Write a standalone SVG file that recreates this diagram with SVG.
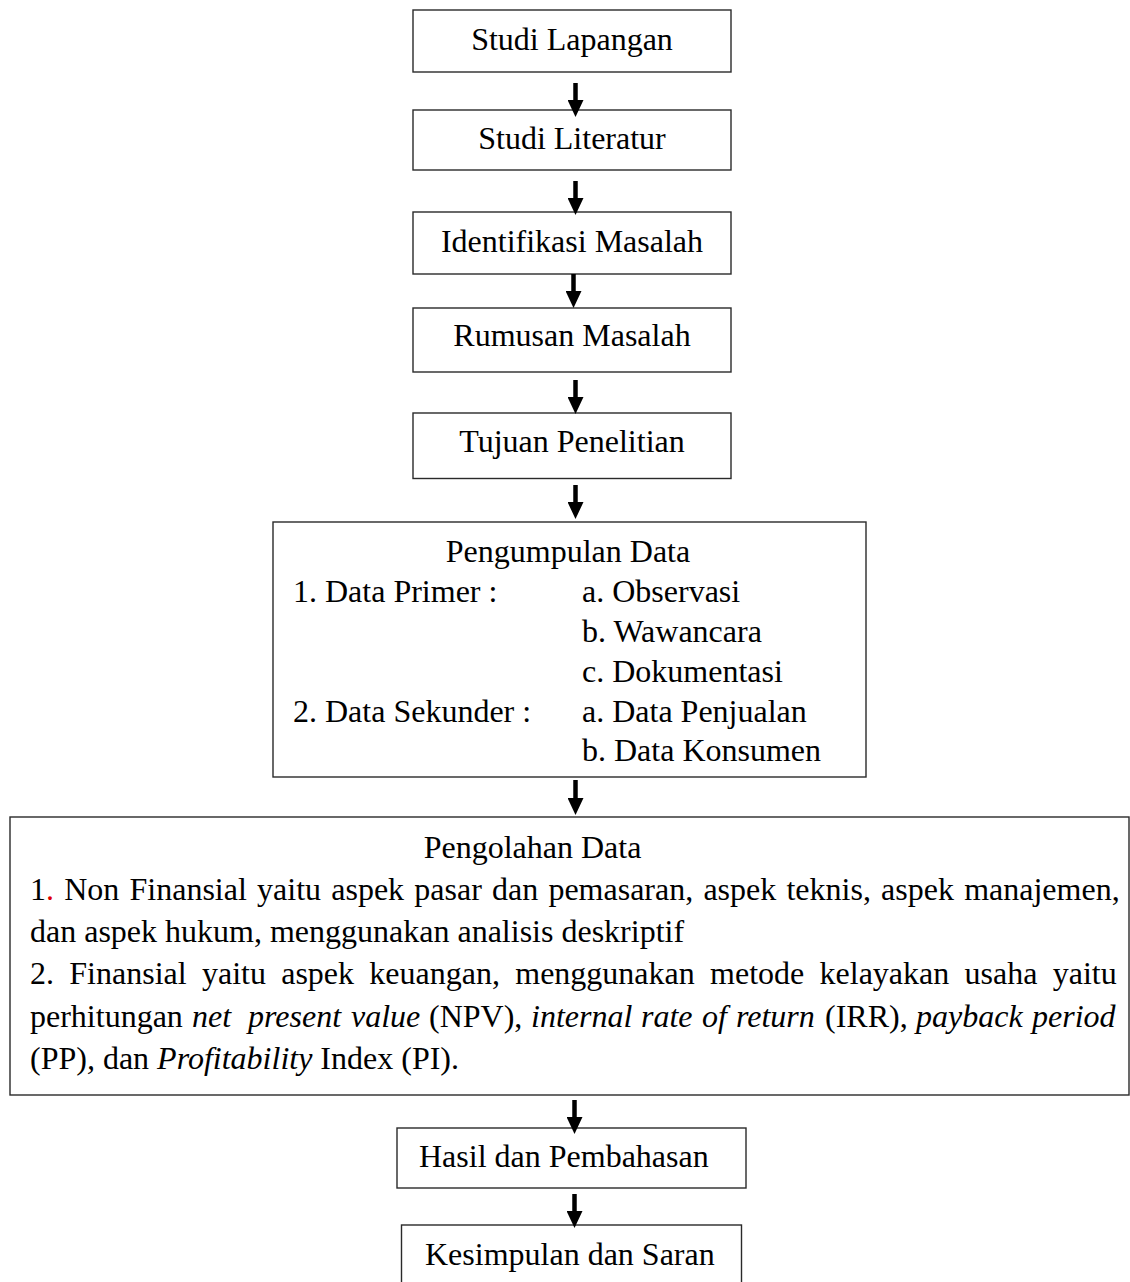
<svg xmlns="http://www.w3.org/2000/svg" width="1130" height="1282" viewBox="0 0 1130 1282">
<style>
.box{fill:#fff;stroke:#2a2a2a;stroke-width:1.4}
.t{font-family:"Liberation Serif","Times New Roman",serif;font-size:32px;fill:#000}
.c{text-anchor:middle}
.i{font-style:italic}
.arr{stroke:#000;stroke-width:4.5;fill:none}
</style>
<defs>
<marker id="ah" viewBox="0 0 17 16" refX="0" refY="8" markerWidth="17" markerHeight="16" markerUnits="userSpaceOnUse" orient="auto">
<path d="M0,0 L17,8 L0,16 z" fill="#000"/>
</marker>
</defs>
<rect width="1130" height="1282" fill="#fff"/>
<g id="n1"><rect class="box" x="413" y="10" width="318" height="62"/><text class="t c" x="572" y="50">Studi Lapangan</text></g>
<g id="n2"><rect class="box" x="413" y="110" width="318" height="60"/><text class="t c" x="572" y="149">Studi Literatur</text></g>
<g id="n3"><rect class="box" x="413" y="212" width="318" height="62"/><text class="t c" x="572" y="252">Identifikasi Masalah</text></g>
<g id="n4"><rect class="box" x="413" y="308" width="318" height="64"/><text class="t c" x="572" y="346">Rumusan Masalah</text></g>
<g id="n5"><rect class="box" x="413" y="413" width="318" height="65.5"/><text class="t c" x="572" y="452">Tujuan Penelitian</text></g>
<g id="n6"><rect class="box" x="273" y="522" width="593" height="255"/>
<text class="t c" x="568" y="562">Pengumpulan Data</text>
<text class="t" x="293" y="602">1. Data Primer :</text>
<text class="t" x="582" y="602">a. Observasi</text>
<text class="t" x="582" y="642">b. Wawancara</text>
<text class="t" x="582" y="682">c. Dokumentasi</text>
<text class="t" x="293" y="722">2. Data Sekunder :</text>
<text class="t" x="582" y="722">a. Data Penjualan</text>
<text class="t" x="582" y="761">b. Data Konsumen</text>
</g>
<g id="n7"><rect class="box" x="10" y="817" width="1119" height="278"/>
<text class="t c" x="532.5" y="858">Pengolahan Data</text>
<text class="t" x="30" y="900" word-spacing="2.2">1<tspan fill="#e00000">.</tspan> Non Finansial yaitu aspek pasar dan pemasaran, aspek teknis, aspek manajemen,</text>
<text class="t" x="30" y="942">dan aspek hukum, menggunakan analisis deskriptif</text>
<text class="t" x="30" y="984" word-spacing="7.3">2. Finansial yaitu aspek keuangan, menggunakan metode kelayakan usaha yaitu</text>
<text class="t" y="1027"><tspan x="30">perhitungan</tspan><tspan class="i" x="192">net</tspan><tspan class="i" x="248">present</tspan><tspan class="i" x="351">value</tspan><tspan x="429">(NPV),</tspan><tspan class="i" x="531">internal</tspan><tspan class="i" x="641">rate</tspan><tspan class="i" x="702">of</tspan><tspan class="i" x="736">return</tspan><tspan x="825">(IRR),</tspan><tspan class="i" x="916">payback</tspan><tspan class="i" x="1032">period</tspan></text>
<text class="t" x="30" y="1069">(PP)<tspan class="i">,</tspan> dan <tspan class="i">Profitability</tspan> Index (PI).</text>
</g>
<g id="n8"><rect class="box" x="397" y="1128" width="349" height="60"/><text class="t" x="419" y="1167">Hasil dan Pembahasan</text></g>
<g id="n9"><rect class="box" x="401.5" y="1225" width="340" height="62"/><text class="t" x="425" y="1265">Kesimpulan dan Saran</text></g>
<g id="connectors">
<line class="arr" x1="575.5" y1="83" x2="575.5" y2="100" marker-end="url(#ah)"/>
<line class="arr" x1="575.5" y1="181" x2="575.5" y2="198" marker-end="url(#ah)"/>
<line class="arr" x1="573.5" y1="274" x2="573.5" y2="291" marker-end="url(#ah)"/>
<line class="arr" x1="575.5" y1="380" x2="575.5" y2="397" marker-end="url(#ah)"/>
<line class="arr" x1="575.5" y1="485" x2="575.5" y2="502" marker-end="url(#ah)"/>
<line class="arr" x1="575.5" y1="780" x2="575.5" y2="798" marker-end="url(#ah)"/>
<line class="arr" x1="574.5" y1="1100" x2="574.5" y2="1117" marker-end="url(#ah)"/>
<line class="arr" x1="574.5" y1="1194" x2="574.5" y2="1211" marker-end="url(#ah)"/>
</g>
</svg>
